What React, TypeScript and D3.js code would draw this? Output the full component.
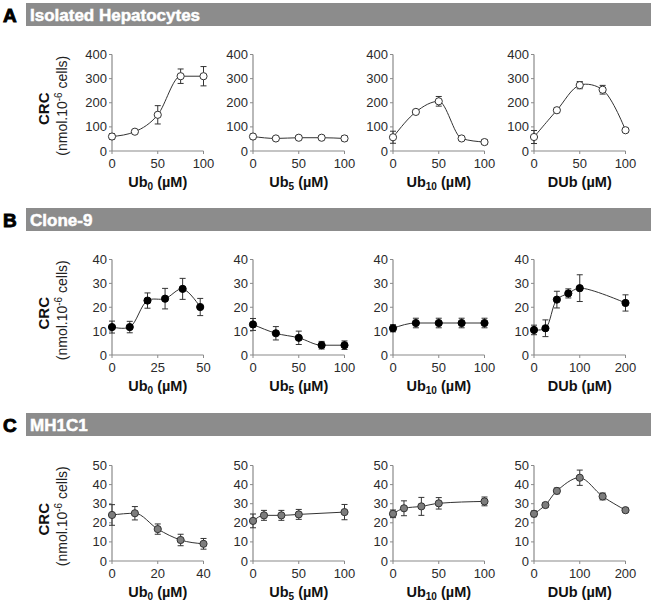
import React from 'react';
import * as d3 from 'd3';

// ---------- data ----------
const rowLetters = ['A', 'B', 'C'];
const rowTitles = ['Isolated Hepatocytes', 'Clone-9', 'MH1C1'];
const xLabelBase = ['Ub', 'Ub', 'Ub', 'DUb'];
const xLabelSub = ['0', '5', '10', ''];

const yTicksA = [0, 100, 200, 300, 400];
const yTicksB = [0, 10, 20, 30, 40];
const yTicksC = [0, 10, 20, 30, 40, 50];

const xTicks100 = [0, 50, 100];
const xTicks50 = [0, 25, 50];
const xTicks40 = [0, 20, 40];
const xTicks200 = [0, 100, 200];

// Row A: isolated hepatocytes
const a1X = [0, 25, 50, 75, 100];
const a1Y = [60, 80, 150, 310, 310];
const a1E = [12, 6, 38, 30, 40];
const a2X = [0, 25, 50, 75, 100];
const a2Y = [60, 52, 55, 55, 52];
const a2E = [10, 8, 8, 8, 10];
const a3X = [0, 25, 50, 75, 100];
const a3Y = [57, 162, 206, 52, 37];
const a3E = [25, 8, 20, 7, 10];
const a4X = [0, 25, 50, 75, 100];
const a4Y = [58, 169, 273, 254, 86];
const a4E = [27, 10, 15, 18, 8];

// Row B: Clone-9
const b1X = [0, 9.7, 19.4, 29, 38.6, 48.2];
const b1Y = [11.7, 11.7, 22.8, 23.6, 27.7, 20.1];
const b1E = [2.5, 2.4, 3.2, 4.3, 4.4, 3.6];
const b2X = [0, 25, 50, 75, 100];
const b2Y = [12.8, 9.1, 7.2, 4.1, 4.1];
const b2E = [2.5, 2.8, 2.8, 1.6, 1.8];
const b3X = [0, 25, 50, 75, 100];
const b3Y = [11.2, 13.4, 13.4, 13.4, 13.4];
const b3E = [1.5, 2, 2, 2, 2];
const b4X = [0, 25, 50, 75, 100, 200];
const b4Y = [10.5, 11.2, 23.2, 25.8, 28, 21.8];
const b4E = [2, 3.5, 3.5, 1.9, 5.6, 3.4];

// Row C: MH1C1
const c1X = [0, 10, 20, 30, 40];
const c1Y = [24.1, 25, 16.7, 11, 9];
const c1E = [5.4, 3.5, 2.7, 3, 2.8];
const c2X = [0, 12, 31, 50, 100];
const c2Y = [21, 23.9, 23.9, 24.4, 25.6];
const c2E = [3.6, 2.6, 2.6, 2.6, 4];
const c3X = [0, 12, 31, 50, 100];
const c3Y = [24.7, 27.6, 28.6, 30.2, 31.2];
const c3E = [2, 3.9, 4.7, 3, 2.3];
const c4X = [0, 25, 50, 100, 150, 200];
const c4Y = [24.7, 29.3, 36.7, 43.6, 33.8, 26.6];
const c4E = [1.5, 1.2, 1.5, 4, 1.8, 1];

// ---------- layout ----------
const W = 651;
const H = 604;
const panelLefts = [112, 253, 393, 534];
const panelWidth = 91.5;
const rowLayout = [
  { bar: 3, top: 54.5, bottom: 151 },
  { bar: 208, top: 259.5, bottom: 355 },
  { bar: 413, top: 465.5, bottom: 561 },
];

const mono = d3.curveMonotoneX;
const catm = d3.curveCatmullRom.alpha(0.5);

type Panel = { xs: number[]; ys: number[]; es: number[]; xMax: number; xTicks: number[]; curve: any };

const rows: { yTicks: number[]; yMax: number; marker: string; panels: Panel[] }[] = [
  {
    yTicks: yTicksA, yMax: 400, marker: 'open',
    panels: [
      { xs: a1X, ys: a1Y, es: a1E, xMax: 100, xTicks: xTicks100, curve: mono },
      { xs: a2X, ys: a2Y, es: a2E, xMax: 100, xTicks: xTicks100, curve: mono },
      { xs: a3X, ys: a3Y, es: a3E, xMax: 100, xTicks: xTicks100, curve: mono },
      { xs: a4X, ys: a4Y, es: a4E, xMax: 100, xTicks: xTicks100, curve: catm },
    ],
  },
  {
    yTicks: yTicksB, yMax: 40, marker: 'black',
    panels: [
      { xs: b1X, ys: b1Y, es: b1E, xMax: 50, xTicks: xTicks50, curve: catm },
      { xs: b2X, ys: b2Y, es: b2E, xMax: 100, xTicks: xTicks100, curve: mono },
      { xs: b3X, ys: b3Y, es: b3E, xMax: 100, xTicks: xTicks100, curve: mono },
      { xs: b4X, ys: b4Y, es: b4E, xMax: 200, xTicks: xTicks200, curve: catm },
    ],
  },
  {
    yTicks: yTicksC, yMax: 50, marker: 'gray',
    panels: [
      { xs: c1X, ys: c1Y, es: c1E, xMax: 40, xTicks: xTicks40, curve: mono },
      { xs: c2X, ys: c2Y, es: c2E, xMax: 100, xTicks: xTicks100, curve: mono },
      { xs: c3X, ys: c3Y, es: c3E, xMax: 100, xTicks: xTicks100, curve: mono },
      { xs: c4X, ys: c4Y, es: c4E, xMax: 200, xTicks: xTicks200, curve: catm },
    ],
  },
];

const FONT = 'Liberation Sans, Arial, sans-serif';
const AXIS = '#8a8a8a';
const INK = '#2a2a2a';

function PanelView({ panel, pi, row, ri }: { panel: Panel; pi: number; row: any; ri: number }) {
  const lay = rowLayout[ri];
  const x0 = panelLefts[pi];
  const x = d3.scaleLinear().domain([0, panel.xMax]).range([x0, x0 + panelWidth]);
  const y = d3.scaleLinear().domain([0, row.yMax]).range([lay.bottom, lay.top]);
  const pts = panel.xs.map((v, i) => [v, panel.ys[i]] as [number, number]);
  const line = d3.line<[number, number]>().x((d) => x(d[0])).y((d) => y(d[1])).curve(panel.curve);
  const fill = row.marker === 'open' ? '#fff' : row.marker === 'black' ? '#000' : '#7d7d7d';
  const stroke = row.marker === 'black' ? '#000' : '#333';
  return (
    <g>
      {/* axes */}
      <line x1={x0} x2={x0} y1={lay.top} y2={lay.bottom} stroke={AXIS} strokeWidth={1.2} />
      <line x1={x0} x2={x0 + panelWidth} y1={lay.bottom} y2={lay.bottom} stroke={AXIS} strokeWidth={1.2} />
      {row.yTicks.map((t: number) => (
        <g key={'y' + t}>
          <line x1={x0 - 3} x2={x0} y1={y(t)} y2={y(t)} stroke={AXIS} strokeWidth={1} />
          <text x={x0 - 5} y={y(t)} dy="0.35em" textAnchor="end" fontSize={13} fontFamily={FONT} fill={INK}>
            {t}
          </text>
        </g>
      ))}
      {panel.xTicks.map((t) => (
        <g key={'x' + t}>
          <line x1={x(t)} x2={x(t)} y1={lay.bottom} y2={lay.bottom + 3} stroke={AXIS} strokeWidth={1} />
          <text x={x(t)} y={lay.bottom + 12} dy="0.35em" textAnchor="middle" fontSize={13} fontFamily={FONT} fill={INK}>
            {t}
          </text>
        </g>
      ))}
      {/* x label */}
      <text x={x0 + panelWidth / 2} y={lay.bottom + 36} textAnchor="middle" fontSize={14.5} fontWeight="bold" fontFamily={FONT} fill="#111">
        <tspan>{xLabelBase[pi]}</tspan>
        {xLabelSub[pi] ? (
          <tspan fontSize={10} dy={3}>
            {xLabelSub[pi]}
          </tspan>
        ) : null}
        <tspan dy={xLabelSub[pi] ? -3 : 0}> (µM)</tspan>
      </text>
      {/* curve */}
      <path d={line(pts) || ''} fill="none" stroke="#333" strokeWidth={1} />
      {/* error bars */}
      {pts.map((p, i) => {
        const cx = x(p[0]);
        const yt = y(p[1] + panel.es[i]);
        const yb = y(Math.max(0, p[1] - panel.es[i]));
        return (
          <g key={'e' + i} stroke="#333" strokeWidth={1}>
            <line x1={cx} x2={cx} y1={yt} y2={yb} />
            <line x1={cx - 3} x2={cx + 3} y1={yt} y2={yt} />
            <line x1={cx - 3} x2={cx + 3} y1={yb} y2={yb} />
          </g>
        );
      })}
      {/* markers */}
      {pts.map((p, i) => (
        <circle key={'m' + i} cx={x(p[0])} cy={y(p[1])} r={3.6} fill={fill} stroke={stroke} strokeWidth={1} />
      ))}
    </g>
  );
}

export default function App() {
  return (
    <svg width={W} height={H} style={{ position: 'absolute', left: 0, top: 0, background: '#fff' }}>
      <rect x={0} y={0} width={W} height={H} fill="#fff" />
      {rows.map((row, ri) => {
        const lay = rowLayout[ri];
        const midY = (lay.top + lay.bottom) / 2 + 6;
        return (
          <g key={'r' + ri}>
            <rect x={26} y={lay.bar} width={W - 26} height={23} fill="#8c8c8c" />
            <text x={3} y={lay.bar + 18.5} fontSize={19} fontWeight="bold" fontFamily={FONT} fill="#000" stroke="#000" strokeWidth={0.9}>
              {rowLetters[ri]}
            </text>
            <text x={30} y={lay.bar + 17.5} fontSize={17} fontWeight="bold" fontFamily={FONT} fill="#fff" stroke="#fff" strokeWidth={0.5}>
              {rowTitles[ri]}
            </text>
            <text transform={`translate(49,${midY}) rotate(-90)`} textAnchor="middle" fontSize={15} fontWeight="bold" fontFamily={FONT} fill="#111">
              CRC
            </text>
            <text transform={`translate(67,${midY - 3}) rotate(-90)`} textAnchor="middle" fontSize={14} fontFamily={FONT} fill="#222">
              <tspan>(nmol.10</tspan>
              <tspan fontSize={10} dy={-5}>-6</tspan>
              <tspan dy={5}> cells)</tspan>
            </text>
            {row.panels.map((p, pi) => (
              <PanelView key={'p' + pi} panel={p} pi={pi} row={row} ri={ri} />
            ))}
          </g>
        );
      })}
    </svg>
  );
}
